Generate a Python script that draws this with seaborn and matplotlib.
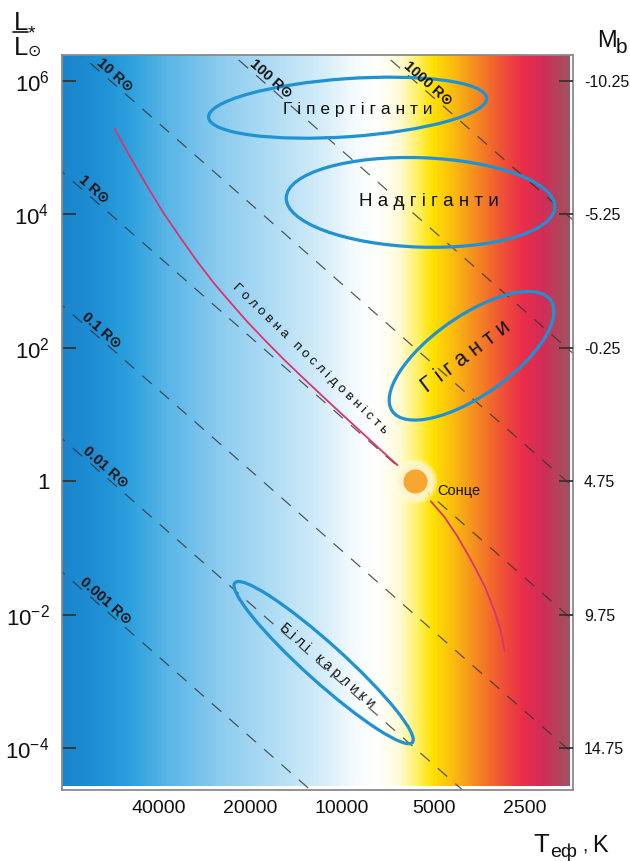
import numpy as np
import matplotlib
matplotlib.use("Agg")
import matplotlib.pyplot as plt
from matplotlib.colors import LinearSegmentedColormap
from matplotlib.patches import Ellipse
from matplotlib.transforms import Affine2D
from matplotlib.ticker import NullLocator
from matplotlib.lines import Line2D
import seaborn as sns

sns.set_theme(style="white")
plt.rcParams['font.family'] = ['Liberation Sans', 'DejaVu Sans']
plt.rcParams['mathtext.fontset'] = 'custom'
plt.rcParams['mathtext.rm'] = 'Liberation Sans'
plt.rcParams['axes.unicode_minus'] = False

# axis ranges (temperature runs hot -> cool)
temp_lim = [83400, 1740]
lum_exp_lim = [-4.63, 6.39]

temp_ticks = [40000, 20000, 10000, 5000, 2500]
lum_tick_exp = [6, 4, 2, 0, -2, -4]
lum_tick_labels = [r"$\mathregular{10^{6}}$", r"$\mathregular{10^{4}}$", r"$\mathregular{10^{2}}$",
                   "1", r"$\mathregular{10^{-2}}$", r"$\mathregular{10^{-4}}$"]
mb_tick_labels = ["-10.25", "-5.25", "-0.25", "4.75", "9.75", "14.75"]

# lines of constant radius
t_sun = 5772
radii = [10, 100, 1000, 1, 0.1, 0.01, 0.001]
radius_names = ["10 R⊙", "100 R⊙", "1000 R⊙", "1 R⊙", "0.1 R⊙", "0.01 R⊙", "0.001 R⊙"]
radius_label_temp = [58000, 17800, 5400, 68000, 64000, 62000, 62000]

# main sequence, above and below the Sun
ms_upper_temp = [56000, 49600, 43600, 38400, 34000, 29900, 26300, 23300, 20500,
                 18000, 15500, 13300, 10900, 8900, 7470, 6570]
ms_upper_lum = [5.28, 4.85, 4.41, 4.00, 3.65, 3.29, 2.96, 2.68, 2.39,
                2.12, 1.82, 1.53, 1.16, 0.79, 0.47, 0.24]
ms_lower_temp = [5110, 4600, 4170, 3780, 3400, 3150, 3010, 2920]
ms_lower_lum = [-0.30, -0.54, -0.83, -1.17, -1.57, -1.95, -2.24, -2.54]

# star regions (size in decades of luminosity)
region_names = ["Г і п е р г і г а н т и", "Н а д г і г а н т и", "Г і г а н т и", "Б і л і   к а р л и к и"]
region_temp = [9590, 5520, 3750, 11500]
region_lum = [5.60, 4.18, 1.88, -2.72]
region_width = [4.18, 4.03, 2.90, 3.58]
region_height = [0.87, 1.34, 1.19, 0.57]
region_angle = [4, -2, 35, -42]
region_label_temp = [8900, 5190, 3925, 11160]
region_label_lum = [5.58, 4.19, 1.87, -2.76]
region_label_size = [12.5, 13.5, 15.5, 10]
region_label_rot = [0, 0, 37, -41]

ms_label = "Г о л о в н а   п о с л і д о в н і с т ь"
ms_label_temp = 12790
ms_label_lum = 1.84

# background colours from hot to cool
bg_pos = [0.0, 0.07, 0.13, 0.21, 0.31, 0.43, 0.52, 0.57, 0.62, 0.665, 0.70,
          0.73, 0.77, 0.81, 0.86, 0.91, 0.95, 1.0]
bg_colors = ["#1a85cd", "#1f8fd5", "#2ba0dd", "#5ab6e6", "#8ccbef", "#b5dff5",
             "#d8eefa", "#f3fafe", "#ffffff", "#fffbd8", "#fff26a", "#ffe200",
             "#fbbd10", "#f6921e", "#f05a33", "#ea2d4b", "#d02e57", "#a0535f"]

fig = plt.figure(figsize=(6.3, 8.61), dpi=100)
pos = [62 / 630, 1 - 790 / 861, 511 / 630, 735 / 861]

bg = fig.add_axes(pos, zorder=0)
cmap = LinearSegmentedColormap.from_list("hr", list(zip(bg_pos, bg_colors)))
bg.imshow(np.linspace(0, 1, 512)[None, :], cmap=cmap, aspect="auto",
          extent=(0, 0.994, 0.005, 1))
bg.set_xlim(0, 1)
bg.set_ylim(0, 1)
bg.axis("off")

ax = fig.add_axes(pos, zorder=1)
ax.patch.set_alpha(0)
ax.set_xscale("log")
ax.set_yscale("log")
ax.set_xlim(temp_lim)
ax.set_ylim(10.0 ** np.array(lum_exp_lim))

# constant radius lines  L = R^2 (T/Tsun)^4
t_ends = np.array([1e5, 1e3])
for r, name, tl in zip(radii, radius_names, radius_label_temp):
    ax.plot(t_ends, r ** 2 * (t_ends / t_sun) ** 4, color="#333333", alpha=0.8,
            lw=0.9, linestyle=(0, (10, 8.5)), zorder=2)
    ax.annotate(name, (tl, r ** 2 * (tl / t_sun) ** 4), xytext=(3.5, 4),
                textcoords="offset points", rotation=-41.5, ha="center", va="center",
                rotation_mode="anchor", fontsize=10.5, fontweight="bold", color="#111111",
                zorder=6)

# main sequence
sns.lineplot(x=ms_upper_temp, y=10.0 ** np.array(ms_upper_lum), ax=ax, sort=False,
             estimator=None, color="#d93470", lw=1.3, zorder=3)
sns.lineplot(x=ms_lower_temp, y=10.0 ** np.array(ms_lower_lum), ax=ax, sort=False,
             estimator=None, color="#d93470", lw=1.3, zorder=3)
ax.text(ms_label_temp, 10 ** ms_label_lum, ms_label, rotation=-44, ha="center",
        va="center", rotation_mode="anchor", fontsize=9.5, color="#111111", zorder=6)

# region outlines drawn in log space with equal visual units
fig_w, fig_h = fig.get_size_inches() * fig.dpi
px_per_dec_t = pos[2] * fig_w / np.log10(temp_lim[0] / temp_lim[1])
px_per_dec_l = pos[3] * fig_h / (lum_exp_lim[1] - lum_exp_lim[0])
k = px_per_dec_l / px_per_dec_t
vis = Affine2D().scale(-k, 1) + ax.transLimits + ax.transAxes
for tc, lc, w, h, a in zip(region_temp, region_lum, region_width, region_height, region_angle):
    ax.add_patch(Ellipse((-np.log10(tc) / k, lc), w, h, angle=a, transform=vis,
                         fill=False, ec="#1e92d2", lw=2.3, zorder=4))
for name, tl, ll, fs, rot in zip(region_names, region_label_temp, region_label_lum,
                                 region_label_size, region_label_rot):
    ax.text(tl, 10 ** ll, name, fontsize=fs, rotation=rot, ha="center", va="center",
            rotation_mode="anchor", color="#111111", zorder=6)

# the Sun with a soft glow
for s, c, al in [(1000, "#fffdf0", 0.35), (800, "#fff8dc", 0.55), (620, "#fff2c8", 0.8)]:
    ax.scatter([t_sun], [1], s=s, color=c, lw=0, alpha=al, zorder=5)
ax.scatter([t_sun], [1], s=300, color="#f7a630", lw=0, zorder=5)
ax.text(4850, 10 ** -0.15, "Сонце", fontsize=10.5, ha="left", va="center",
        color="#111111", zorder=6)

# axes and ticks
ax.set_xticks(temp_ticks, [str(t) for t in temp_ticks])
ax.set_yticks(10.0 ** np.array(lum_tick_exp), lum_tick_labels)
ax.xaxis.set_minor_locator(NullLocator())
ax.yaxis.set_minor_locator(NullLocator())
ax.tick_params(axis="x", direction="in", length=11, width=1.1, color="#555555",
               labelsize=14, pad=7, labelcolor="#111111")
ax.tick_params(axis="y", direction="in", length=10, width=1.3, color="#333333",
               labelsize=16, pad=9, labelcolor="#111111")
for s in ax.spines.values():
    s.set_color("#8a8a8a")
    s.set_linewidth(1.3)
    s.set_visible(True)

ax2 = ax.twinx()
ax2.set_yscale("log")
ax2.set_ylim(10.0 ** np.array(lum_exp_lim))
ax2.set_yticks(10.0 ** np.array(lum_tick_exp), mb_tick_labels)
ax2.yaxis.set_minor_locator(NullLocator())
ax2.tick_params(axis="y", direction="in", length=10, width=1.3, color="#333333",
                labelsize=11.5, pad=8, labelcolor="#111111")
for s in ax2.spines.values():
    s.set_visible(False)

# axis titles
fig.text(14 / 630, 1 - 30 / 861, "L", fontsize=18.5, va="baseline", color="#111111")
fig.text(28 / 630, 1 - 38 / 861, "*", fontsize=14, va="baseline", color="#111111")
fig.add_artist(Line2D([13 / 630, 28 / 630], [1 - 32 / 861, 1 - 32 / 861], color="#111111", lw=1.2))
fig.text(14 / 630, 1 - 55 / 861, "L", fontsize=18.5, va="baseline", color="#111111")
fig.text(28 / 630, 1 - 56 / 861, "⊙", fontsize=11.5, va="baseline", color="#111111",
         family=["DejaVu Sans"])
fig.text(597 / 630, 1 - 47 / 861, "M", fontsize=17, va="baseline", color="#111111")
fig.text(616 / 630, 1 - 53 / 861, "b", fontsize=15, va="baseline", color="#111111")
fig.text(533 / 630, 1 - 852 / 861, "T", fontsize=18.5, va="baseline", color="#111111")
fig.text(550 / 630, 1 - 857 / 861, "еф", fontsize=14, va="baseline", color="#111111")
fig.text(582 / 630, 1 - 852 / 861, ",", fontsize=14, va="baseline", color="#111111")
fig.text(592 / 630, 1 - 852 / 861, "K", fontsize=17, va="baseline", color="#111111")

fig.savefig("out.png", dpi=100)
